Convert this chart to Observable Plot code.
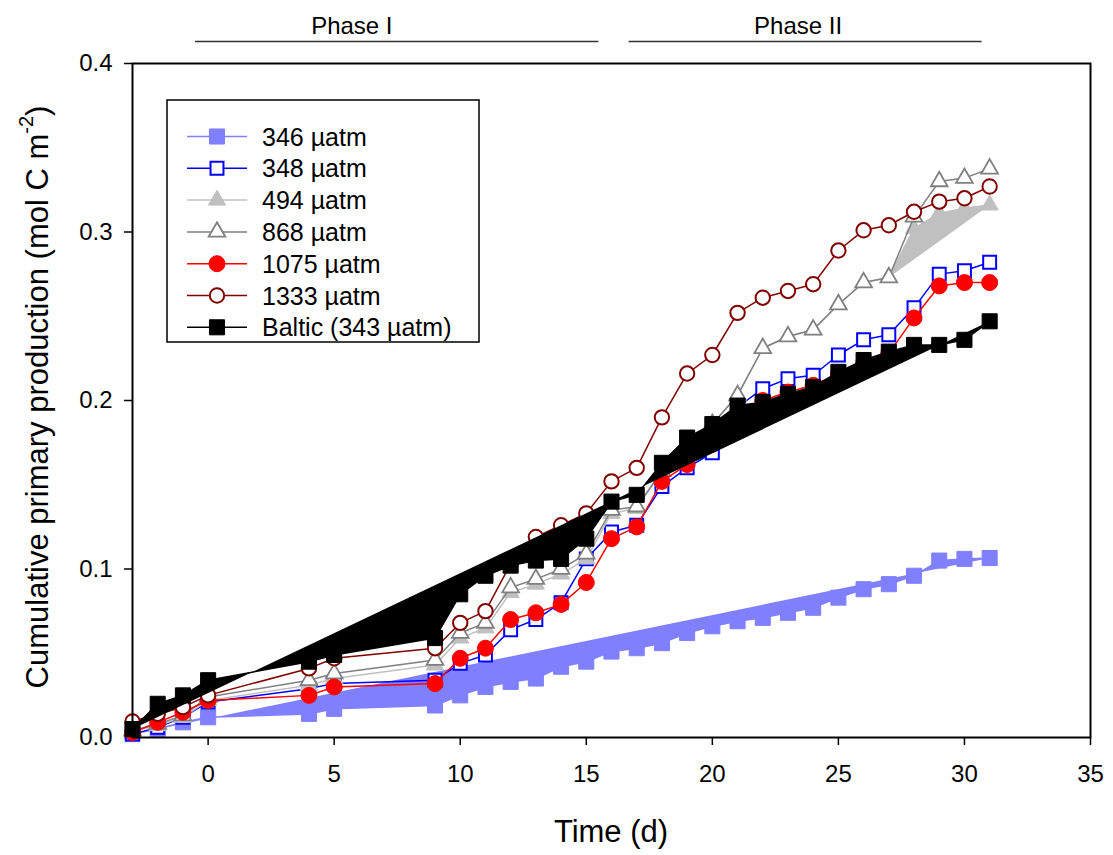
<!DOCTYPE html>
<html><head><meta charset="utf-8">
<script src="https://cdn.jsdelivr.net/npm/d3@7"></script>
<script src="https://cdn.jsdelivr.net/npm/@observablehq/plot@0.6"></script>
<style>
body{margin:0;background:#fff;font-family:"Liberation Sans",Arial,sans-serif}
#chart{position:relative;width:1113px;height:855px}
</style>
</head><body><div id="chart"></div>
<script>
// ---- data ----
const days = [-3,-2,-1,0,4,5,9,10,11,12,13,14,15,16,17,18,19,20,21,22,23,24,25,26,27,28,29,30,31];
const v346 = [0.002,0.005,0.009,0.012,0.014,0.017,0.019,0.025,0.030,0.033,0.035,0.042,0.045,0.051,0.053,0.056,0.062,0.066,0.069,0.071,0.074,0.077,0.083,0.088,0.091,0.096,0.105,0.106,0.1065];
const v348 = [0.002,0.006,0.012,0.021,0.029,0.032,0.034,0.044,0.049,0.064,0.070,0.080,0.106,0.122,0.126,0.149,0.160,0.169,0.196,0.207,0.213,0.215,0.227,0.236,0.239,0.255,0.275,0.277,0.282];
const v494 = [0.004,0.007,0.012,0.022,0.031,0.035,0.043,0.059,0.065,0.086,0.091,0.097,0.106,0.133,0.136,0.158,0.173,0.186,0.203,0.231,0.238,0.242,0.257,0.270,0.273,0.302,0.311,0.314,0.316];
const v868 = [0.004,0.008,0.013,0.024,0.034,0.038,0.046,0.062,0.068,0.089,0.094,0.100,0.109,0.135,0.137,0.158,0.173,0.186,0.203,0.231,0.238,0.242,0.257,0.270,0.273,0.309,0.330,0.332,0.3375];
const v1075 = [0.003,0.009,0.015,0.022,0.025,0.030,0.032,0.047,0.053,0.070,0.074,0.079,0.092,0.118,0.125,0.152,0.162,0.174,0.188,0.200,0.205,0.209,0.216,0.222,0.228,0.249,0.268,0.270,0.270];
const v1333 = [0.0095,0.014,0.018,0.025,0.041,0.047,0.053,0.068,0.075,0.103,0.119,0.126,0.133,0.152,0.160,0.190,0.216,0.227,0.252,0.261,0.265,0.269,0.289,0.301,0.304,0.312,0.318,0.320,0.327];
const vBaltic = [0.005,0.020,0.025,0.034,0.045,0.049,0.059,0.085,0.096,0.102,0.105,0.106,0.118,0.140,0.144,0.163,0.178,0.186,0.197,0.199,0.204,0.208,0.217,0.224,0.229,0.233,0.233,0.236,0.247];
const labels = ["346 µatm","348 µatm","494 µatm","868 µatm","1075 µatm","1333 µatm","Baltic (343 µatm)"];
const xTicks = [0,5,10,15,20,25,30,35];
const yTicks = [0,0.1,0.2,0.3,0.4];
const phaseLabels = ["Phase I","Phase II"];
const phaseStart = [-0.5,16.7];
const phaseEnd = [15.5,30.7];
const phaseLabelAt = [5.7,23.4];
const partialFillFrom494 = 27;

// ---- styles ----
const seriesValues = [v346,v348,v494,v868,v1075,v1333,vBaltic];
const styles = [
  {color:"#8080ff", symbol:"square",   fill:"#8080ff", r:8.5, sw:1,   area:true},
  {color:"#0000ff", symbol:"square",   fill:"white",   r:7.3, sw:2,   area:false},
  {color:"#c0c0c0", symbol:"triangle", fill:"#c0c0c0", r:6.4, sw:1,   area:false, partial:true},
  {color:"#808080", symbol:"triangle", fill:"white",   r:6.2, sw:1.8, area:false},
  {color:"#ff0000", symbol:"circle",   fill:"#ff0000", r:8,   sw:1,   area:false},
  {color:"#800000", symbol:"circle",   fill:"white",   r:7.2, sw:2,   area:false},
  {color:"#000000", symbol:"square",   fill:"#000000", r:8.5, sw:1,   area:true}
];

const series = labels.map((label,k)=>({
  label, ...styles[k],
  rows: days.map((d,i)=>({day:d, value:seriesValues[k][i], series:label}))
}));

const phases = phaseLabels.map((label,i)=>({label,start:phaseStart[i],end:phaseEnd[i],at:phaseLabelAt[i]}));

const marks = [
  Plot.axisX({ticks:xTicks, tickSize:8, tickPadding:19, fontSize:24, strokeWidth:1.5, tickFormat:d=>String(d), label:null}),
  Plot.axisY({ticks:yTicks, tickSize:8, tickPadding:12, fontSize:24, strokeWidth:1.5, tickFormat:d3.format(".1f"), label:null})
];
for (const s of series) {
  marks.push(Plot.line(s.rows, {x:"day", y:"value", stroke:s.color, strokeWidth:1.5, fill: s.area ? s.color : "none", strokeLinejoin:"round"}));
  if (s.partial) {
    marks.push(Plot.line(s.rows.filter(r=>r.day>=partialFillFrom494), {x:"day", y:"value", stroke:s.color, strokeWidth:1.5, fill:s.color}));
  }
  marks.push(Plot.dot(s.rows, {x:"day", y:"value", symbol:s.symbol, r:s.r, fill:s.fill, stroke:s.color, strokeWidth:s.sw, fillOpacity:1}));
}
marks.push(Plot.frame({stroke:"black", strokeWidth:2}));
marks.push(Plot.ruleY(phases, {x1:"start", x2:"end", y:()=>yTicks[yTicks.length-1], dy:-22, stroke:"#333", strokeWidth:1.5}));
marks.push(Plot.text(phases, {x:"at", y:()=>yTicks[yTicks.length-1], dy:-37, text:"label", fontSize:24, fill:"black"}));

const chart = Plot.plot({
  width:1113, height:855,
  marginLeft:132, marginRight:23, marginTop:63, marginBottom:118,
  style:{fontFamily:'"Liberation Sans", Arial, sans-serif', color:"black", background:"white", overflow:"visible"},
  x:{domain:[-3,35]},
  y:{domain:[0,0.4]},
  marks
});
document.getElementById("chart").appendChild(chart);

// ---- axis titles & legend ----
const svg = d3.select(chart);
const font = '"Liberation Sans", Arial, sans-serif';
svg.append("text").attr("x",611).attr("y",831).attr("text-anchor","middle").attr("dominant-baseline","central")
  .style("font-family",font).style("font-size","31px").attr("fill","black").text("Time (d)");
const yl = svg.append("text").attr("transform","translate(37,397) rotate(-90)").attr("text-anchor","middle")
  .attr("dominant-baseline","central").style("font-family",font).style("font-size","31px").attr("fill","black");
yl.append("tspan").text("Cumulative primary production (mol C m");
yl.append("tspan").attr("baseline-shift","super").style("font-size","20px").text("-2");
yl.append("tspan").text(")");

const lg = svg.append("g").attr("text-anchor","start");
lg.append("rect").attr("x",167).attr("y",100).attr("width",312).attr("height",242)
  .attr("fill","white").attr("stroke","black").attr("stroke-width",1.5);
const symMap = {square:d3.symbolSquare, triangle:d3.symbolTriangle, circle:d3.symbolCircle};
series.forEach((s,i)=>{
  const y = 136.5 + i*31.8;
  const g = lg.append("g");
  g.append("line").attr("x1",187).attr("x2",247).attr("y1",y).attr("y2",y).attr("stroke",s.color).attr("stroke-width",1.5);
  g.append("path").attr("transform",`translate(217,${y})`)
    .attr("d", d3.symbol(symMap[s.symbol], Math.PI*s.r*s.r)())
    .attr("fill",s.fill).attr("stroke",s.color).attr("stroke-width",s.sw);
  g.append("text").attr("x",262).attr("y",y).attr("text-anchor","start").attr("dominant-baseline","central")
    .style("font-family",font).style("font-size","25px").attr("fill","black").text(s.label);
});
</script>
</body></html>
